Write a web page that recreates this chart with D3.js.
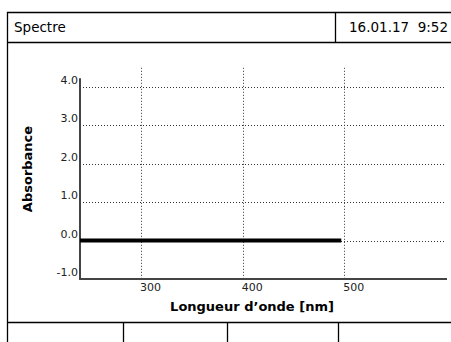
<!DOCTYPE html>
<html>
<head>
<meta charset="utf-8">
<script src="https://cdn.jsdelivr.net/npm/d3@7"></script>
<style>
  body { margin: 0; background: #fff; }
  svg { display: block; font-family: "DejaVu Sans", sans-serif; }
  .grid line { stroke: #333; stroke-width: 1; stroke-dasharray: 1,2; }
  .tick-label { font-size: 11px; fill: #222; }
  .axis-title { font-size: 13px; font-weight: bold; fill: #000; }
  .frame { stroke: #000; stroke-width: 1.3; fill: none; }
</style>
</head>
<body>
<svg id="chart" width="451" height="342"></svg>
<script>
// header texts
const title = "Spectre";
const stamp = "16.01.17  9:52";

// axis ticks
const yTicks = [-1, 0, 1, 2, 3, 4];
const xTicks = [300, 400, 500];

// measured spectrum (flat baseline)
const wavelengths = [240, 300, 400, 497];
const absorbance = [0.0, 0.0, 0.0, 0.0];

const xTitle = "Longueur d\u2019onde [nm]";
const yTitle = "Absorbance";

var width = 451,
    height = 342;

var svg = d3.select("svg#chart");

// frame of the instrument screen
svg.append("path").attr("class", "frame")
    .attr("d", "M7.5,342 V12.5 H452");
svg.append("line").attr("class", "frame")
    .attr("x1", 7.5).attr("x2", 452).attr("y1", 42.5).attr("y2", 42.5);
svg.append("line").attr("class", "frame")
    .attr("x1", 335.5).attr("x2", 335.5).attr("y1", 12.5).attr("y2", 42.5);
svg.append("line").attr("class", "frame")
    .attr("x1", 7.5).attr("x2", 452).attr("y1", 322.5).attr("y2", 322.5);
[123.5, 227.5, 338.5].forEach(function(x) {
    svg.append("line").attr("class", "frame")
        .attr("x1", x).attr("x2", x).attr("y1", 322.5).attr("y2", 342);
});

svg.append("text").attr("x", 14).attr("y", 31.5)
    .style("font-size", "13.5px").text(title);
svg.append("text").attr("x", 448).attr("y", 31.5)
    .attr("text-anchor", "end")
    .attr("xml:space", "preserve")
    .style("white-space", "pre")
    .style("font-size", "13.5px").text(stamp);

// scales
var x = d3.scaleLinear().domain([240, 600]).range([80, 446]);
var y = d3.scaleLinear().domain([-1, 4.5]).range([279, 67.8]);
var yAxisTop = 4.23;

// grid
var grid = svg.append("g").attr("class", "grid");
grid.selectAll("line.h")
    .data(yTicks.filter(d => d > -1))
    .enter().append("line").attr("class", "h")
    .attr("x1", x(240)).attr("x2", x(600))
    .attr("y1", d => Math.round(y(d)) + 0.5)
    .attr("y2", d => Math.round(y(d)) + 0.5);
grid.selectAll("line.v")
    .data(xTicks)
    .enter().append("line").attr("class", "v")
    .attr("x1", d => Math.round(x(d)) + 0.5)
    .attr("x2", d => Math.round(x(d)) + 0.5)
    .attr("y1", y(4.5)).attr("y2", y(-1));

// axes lines
svg.append("line")
    .attr("x1", x(240)).attr("x2", x(240))
    .attr("y1", y(yAxisTop)).attr("y2", y(-1) + 1)
    .attr("stroke", "#444").attr("stroke-width", 2);
svg.append("line")
    .attr("x1", x(240)).attr("x2", x(600) + 1)
    .attr("y1", y(-1)).attr("y2", y(-1))
    .attr("stroke", "#444").attr("stroke-width", 2);

// tick labels
svg.selectAll("text.ylab")
    .data(yTicks)
    .enter().append("text").attr("class", "tick-label ylab")
    .attr("x", x(240) - 2)
    .attr("y", d => y(d) - 3)
    .attr("text-anchor", "end")
    .text(d => d3.format(".1f")(d).replace("\u2212", "-"));
svg.selectAll("text.xlab")
    .data(xTicks)
    .enter().append("text").attr("class", "tick-label xlab")
    .attr("x", d => x(d) - 1)
    .attr("y", y(-1) + 12)
    .attr("text-anchor", "start")
    .text(d => d);

// spectrum line
var line = d3.line()
    .x(d => x(d[0]))
    .y(d => y(d[1]));
svg.append("path")
    .datum(d3.zip(wavelengths, absorbance))
    .attr("d", line)
    .attr("fill", "none")
    .attr("stroke", "#000")
    .attr("stroke-width", 4);

// axis titles
svg.append("text").attr("class", "axis-title")
    .attr("x", 252).attr("y", 311)
    .attr("text-anchor", "middle")
    .text(xTitle);
svg.append("text").attr("class", "axis-title")
    .attr("transform", "translate(32,169) rotate(-90)")
    .attr("text-anchor", "middle")
    .text(yTitle);
</script>
</body>
</html>
